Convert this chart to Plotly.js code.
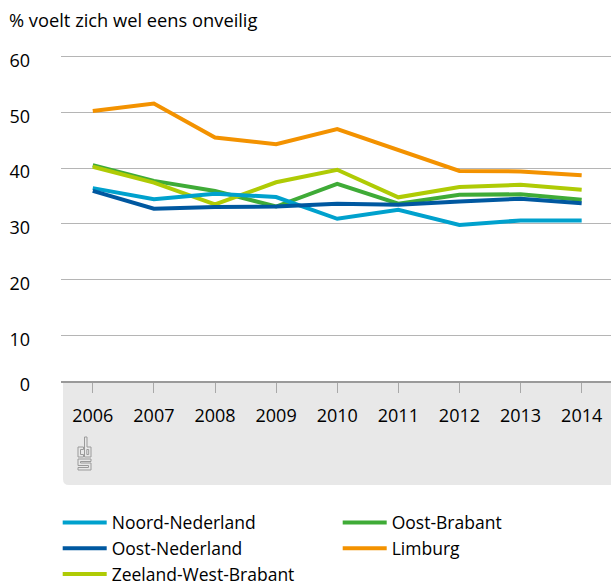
<!DOCTYPE html>
<html>
<head>
<meta charset="utf-8">
<script src="https://cdn.plot.ly/plotly-3.0.1.min.js"></script>
<style>html,body{margin:0;padding:0;background:#fff;}#chart{width:611px;height:583px;}</style>
</head>
<body>
<div id="chart"></div>
<script>
// ---- Data ----
const years = [2006, 2007, 2008, 2009, 2010, 2011, 2012, 2013, 2014];
const noordNederland = [36.4, 34.4, 35.4, 34.8, 30.9, 32.5, 29.8, 30.6, 30.6];
const oostNederland = [35.9, 32.7, 33.0, 33.1, 33.6, 33.4, 34.0, 34.5, 33.7];
const zeelandWestBrabant = [40.25, 37.4, 33.5, 37.45, 39.7, 34.75, 36.6, 37.0, 36.1];
const oostBrabant = [40.5, 37.7, 35.9, 33.1, 37.15, 33.6, 35.2, 35.3, 34.3];
const limburg = [50.25, 51.6, 45.5, 44.3, 47.0, 43.25, 39.5, 39.4, 38.7];
const seriesNames = ["Noord-Nederland", "Oost-Nederland", "Zeeland-West-Brabant", "Oost-Brabant", "Limburg"];
const yTickVals = [10, 20, 30, 40, 50, 60];
const yTickText = ["10", "20", "30", "40", "50", "60"];
const titleText = "% voelt zich wel eens onveilig";

// ---- Styling ----
const FONT = "'Open Sans', sans-serif";
const colors = ["#00a1cd", "#0058a0", "#afcb05", "#3fab37", "#f39200"];
const W = 611, H = 583;
const M = {l: 61, r: 0, t: 50, b: 202};
const PW = W - M.l - M.r, PH = H - M.t - M.b;
const yBottom = 1.78, yTop = 61.2;
const px = x => (x - M.l) / PW;          // pixel -> paper x
const py = y => (H - M.b - y) / PH;      // pixel -> paper y

const allSeries = [noordNederland, oostNederland, zeelandWestBrabant, oostBrabant, limburg];
const legendOf = ["legend", "legend", "legend", "legend2", "legend2"];
const drawOrder = [3, 2, 0, 1, 4];
const traces = drawOrder.map(i => ({
  type: "scatter", mode: "lines",
  x: years, y: allSeries[i], name: seriesNames[i],
  legend: legendOf[i], legendrank: i + 1, legendgroup: "g" + i,
  line: {color: colors[i], width: 4},
  hoverinfo: "skip"
}));

// Grey band under the x axis with rounded bottom-left corner
const bx0 = px(63), bx1 = 1, by0 = py(485), by1 = 0;
const rx = 6 / PW, ry = 6 / PH;
const shapes = [{
  type: "path", xref: "paper", yref: "paper", layer: "below",
  path: `M${bx0},${by1} L${bx1},${by1} L${bx1},${by0} L${bx0 + rx},${by0} Q${bx0},${by0} ${bx0},${by0 + ry} Z`,
  fillcolor: "#e8e8e8", line: {width: 0}
}];

// CBS logo (decorative outline)
function logoPath(pts) {
  return "M" + pts.map(p => px(p[0]) + "," + py(p[1])).join(" L") + " Z";
}
const logoParts = [
  [[78, 447], [83.5, 447], [83.5, 449.5], [80.5, 449.5], [80.5, 454.5], [83.5, 454.5], [83.5, 457], [78, 457]],
  [[84.5, 437], [87, 437], [87, 447], [91, 447], [91, 457], [84.5, 457]],
  [[86.8, 449.5], [88.7, 449.5], [88.7, 454.5], [86.8, 454.5]],
  [[78, 459], [91, 459], [91, 461.5], [80.5, 461.5], [80.5, 463], [91, 463], [91, 470], [78, 470], [78, 467.5], [88.5, 467.5], [88.5, 465.5], [78, 465.5]]
];
logoParts.forEach(p => shapes.push({
  type: "path", xref: "paper", yref: "paper", layer: "above",
  path: logoPath(p), line: {color: "#9a9a9a", width: 1}, fillcolor: "rgba(0,0,0,0)"
}));

const legendCommon = {
  orientation: "v", xanchor: "left", yanchor: "top",
  bgcolor: "rgba(0,0,0,0)", borderwidth: 0,
  font: {family: FONT, size: 17.5, color: "#000"},
  traceorder: "normal", itemwidth: 44, itemclick: false, itemdoubleclick: false
};

const layout = {
  width: W, height: H,
  margin: {l: M.l, r: M.r, t: M.t, b: M.b, pad: 0, autoexpand: false},
  paper_bgcolor: "#fff", plot_bgcolor: "#fff",
  font: {family: FONT, size: 18, color: "#000"},
  showlegend: true,
  title: {
    text: titleText, xref: "container", yref: "container",
    x: 9 / W, xanchor: "left", y: 1 - 21 / H, yanchor: "middle",
    font: {family: FONT, size: 18.3, color: "#000"}
  },
  xaxis: {
    range: [2005.48, 2014.48], tickvals: years, ticktext: years.map(String),
    showgrid: false, zeroline: false,
    showline: true, linecolor: "#9a9a9a", linewidth: 2,
    ticks: "outside", ticklen: 10, tickwidth: 1, tickcolor: "#a8a8a8",
    ticklabelstandoff: 7,
    tickfont: {family: FONT, size: 18, color: "#000"},
    fixedrange: true
  },
  yaxis: {
    range: [yBottom, yTop],
    tickvals: [yBottom].concat(yTickVals), ticktext: ["0"].concat(yTickText),
    showgrid: true, gridcolor: "#b5b5b5", gridwidth: 1, zeroline: false,
    showline: false, ticks: "", ticklabelstandoff: 30, ticklabelshift: 4,
    tickfont: {family: FONT, size: 18, color: "#000"},
    fixedrange: true
  },
  legend: Object.assign({}, legendCommon, {x: px(57.7), y: py(504.5)}),
  legend2: Object.assign({}, legendCommon, {x: px(337.7), y: py(504.5)}),
  shapes: shapes
};

Plotly.newPlot("chart", traces, layout, {staticPlot: true, displayModeBar: false});
</script>
</body>
</html>
